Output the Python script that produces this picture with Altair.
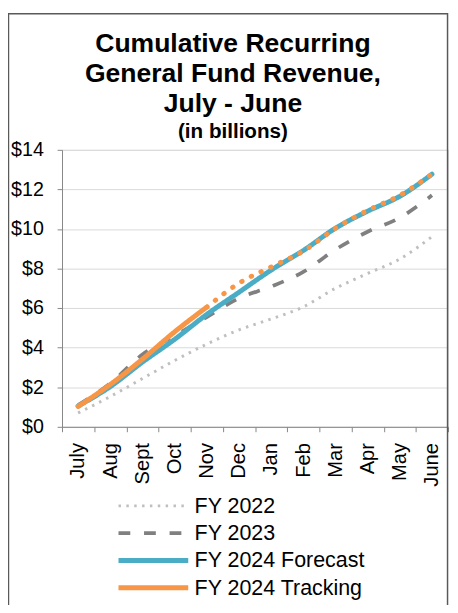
import altair as alt
import pandas as pd

months = ["July", "Aug", "Sept", "Oct", "Nov", "Dec", "Jan", "Feb", "Mar", "Apr", "May", "June"]
fy2022 = [0.70, 1.53, 2.44, 3.35, 4.18, 4.90, 5.45, 6.06, 7.00, 7.75, 8.48, 9.61]
fy2023 = [1.10, 2.20, 3.65, 4.60, 5.55, 6.50, 7.09, 7.83, 8.96, 9.86, 10.57, 11.70]
fy2024_forecast = [1.05, 2.03, 3.27, 4.42, 5.68, 6.80, 7.92, 8.91, 10.04, 10.90, 11.65, 12.77]
fy2024_tracking = [1.03, 2.14, 3.42, 4.80, 6.05]
projection_months = ["Nov", "Dec", "Jan", "Feb", "Mar", "Apr", "May", "June"]
fy2024_projection = [6.05, 7.26, 8.08, 8.88, 10.03, 10.94, 11.70, 12.77]

series_names = ["FY 2022", "FY 2023", "FY 2024 Forecast", "FY 2024 Tracking"]
series_colors = ["#BFBFBF", "#808080", "#4BACC6", "#F79646"]
series_dash = [[2.5, 5.5], [12, 14], [1, 0], [1, 0]]
series_width = [3, 3.8, 5, 5]

def frame(name, ms, vals):
    return pd.DataFrame({"month": ms, "value": vals, "series": name})

df22 = frame("FY 2022", months, fy2022)
df23 = frame("FY 2023", months, fy2023)
dffc = frame("FY 2024 Forecast", months, fy2024_forecast)
dftr = frame("FY 2024 Tracking", months[: len(fy2024_tracking)], fy2024_tracking)
dfpr = frame("FY 2024 Projection", projection_months, fy2024_projection)

FONT = "Liberation Sans"

x_enc = alt.X(
    "month:N",
    sort=months,
    bandPosition=0.5,
    scale=alt.Scale(type="band", domain=months, paddingInner=0, paddingOuter=0),
    axis=alt.Axis(
        title=None, labelAngle=-90, labelAlign="right", labelBaseline="middle",
        labelFontSize=20.5, labelPadding=11, labelColor="black", labelFont=FONT,
        tickSize=5, tickColor="#868686", domainColor="#868686", tickBand="extent",
        grid=False,
    ),
)
y_enc = alt.Y(
    "value:Q",
    scale=alt.Scale(domain=[0, 14]),
    axis=alt.Axis(
        title=None, values=[0, 2, 4, 6, 8, 10, 12, 14], format="$.0f",
        labelFontSize=20, labelPadding=14, labelColor="black", labelFont=FONT,
        tickSize=5, tickColor="#868686", domainColor="#868686",
        gridColor="#D9D9D9", gridWidth=1,
    ),
)

legend = alt.Legend(
    title=None, orient="none", legendX=55, legendY=352, direction="vertical",
    symbolType="stroke", symbolSize=5041, labelFontSize=21.8, labelFont=FONT,
    labelColor="black", labelOffset=4, rowPadding=4.8, clipHeight=21, labelLimit=300,
)

color_enc = alt.Color("series:N", scale=alt.Scale(domain=series_names, range=series_colors), legend=legend)
dash_enc = alt.StrokeDash("series:N", scale=alt.Scale(domain=series_names, range=series_dash), legend=legend)
width_enc = alt.StrokeWidth("series:N", scale=alt.Scale(type="ordinal", domain=series_names, range=series_width), legend=legend)

def series_layer(df, cap):
    return alt.Chart(df).mark_line(interpolate="monotone", strokeCap=cap, strokeJoin="round").encode(
        x=x_enc, y=y_enc, color=color_enc, strokeDash=dash_enc, strokeWidth=width_enc
    )

proj = alt.Chart(dfpr).mark_line(
    interpolate="monotone", color="#F79646", strokeWidth=5, strokeDash=[0.5, 10.5], strokeCap="round"
).encode(x=x_enc, y=y_enc)

border = alt.Chart(pd.DataFrame({"b": [0]})).mark_rect(
    filled=False, stroke="#595959", strokeWidth=1.5
).encode(x=alt.value(-54.5), x2=alt.value(392.5), y=alt.value(-138.5), y2=alt.value(470))

chart = alt.layer(
    series_layer(df22, "butt"),
    series_layer(df23, "butt"),
    series_layer(dffc, "round"),
    proj,
    series_layer(dftr, "round"),
    border,
).properties(
    width=393,
    height=282,
    autosize=alt.AutoSizeParams(type="none"),
    padding={"left": 55, "top": 139, "right": 2, "bottom": 176},
    title=alt.TitleParams(
        text=["Cumulative Recurring", "General Fund Revenue,", "July - June"],
        subtitle="(in billions)",
        anchor="middle", frame="group", dx=-22.5, offset=-132,
        font=FONT, fontSize=27, fontWeight="bold", lineHeight=30.5, color="black",
        subtitleFont=FONT, subtitleFontSize=21, subtitleFontWeight="bold",
        subtitleColor="black", subtitlePadding=3,
    ),
).configure_view(strokeWidth=0).configure(background="white")

chart.save("out.html", embed_options={"renderer": "svg", "actions": False})
